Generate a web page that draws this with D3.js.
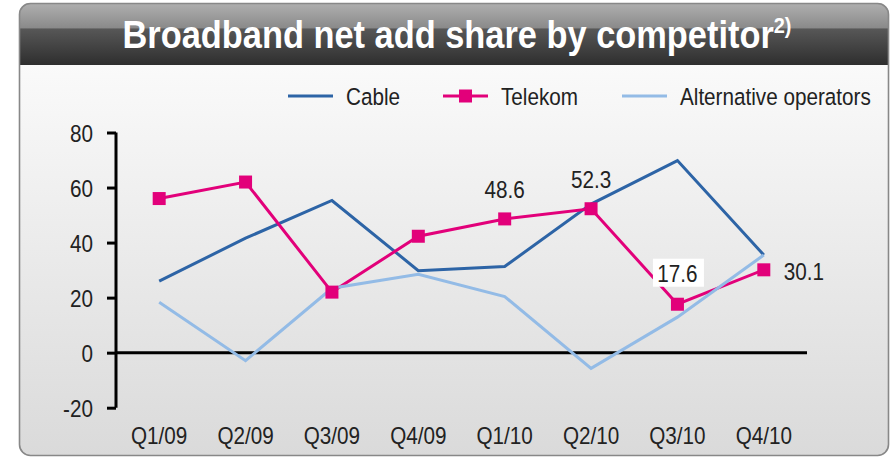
<!DOCTYPE html>
<html>
<head>
<meta charset="utf-8">
<script src="https://cdn.jsdelivr.net/npm/d3@7"></script>
<style>
  body { margin: 0; background: #fff; }
  svg text { font-family: "Liberation Sans", Arial, sans-serif; }
</style>
</head>
<body>
<div id="chart"></div>
<script>
var quarters = ["Q1/09", "Q2/09", "Q3/09", "Q4/09", "Q1/10", "Q2/10", "Q3/10", "Q4/10"];
var cable = [26, 41.6, 55.3, 29.8, 31.3, 54, 69.8, 35.5];
var telekom = [56, 62, 22, 42.3, 48.6, 52.3, 17.6, 30.1];
var alternative = [18.3, -2.9, 23.4, 28.5, 20.4, -5.7, 12.9, 35.5];
var yTicks = [-20, 0, 20, 40, 60, 80];
var labelled = ["Q1/10", "Q2/10", "Q3/10", "Q4/10"];

var width = 895, height = 458;
var squeeze = 0.88;

var svg = d3.select("#chart").append("svg")
            .attr("width", width)
            .attr("height", height);

var defs = svg.append("defs");

var bg = defs.append("linearGradient").attr("id", "bg")
             .attr("x1", 0).attr("y1", 0).attr("x2", 0).attr("y2", 1);
bg.append("stop").attr("offset", "0%").attr("stop-color", "#ffffff");
bg.append("stop").attr("offset", "100%").attr("stop-color", "#dadada");

var head = defs.append("linearGradient").attr("id", "head")
               .attr("x1", 0).attr("y1", 0).attr("x2", 0).attr("y2", 1);
head.append("stop").attr("offset", "0%").attr("stop-color", "#b0b0b0");
head.append("stop").attr("offset", "40%").attr("stop-color", "#8a8a8a");
head.append("stop").attr("offset", "42%").attr("stop-color", "#575757");
head.append("stop").attr("offset", "100%").attr("stop-color", "#2e2e2e");

defs.append("clipPath").attr("id", "frameClip")
    .append("rect").attr("x", 19).attr("y", 3).attr("width", 870).attr("height", 453).attr("rx", 11);

// squeezed text, the original uses a condensed face
function label(g, x, y, str, size, anchor, sq) {
  return g.append("text")
          .attr("transform", "translate(" + x + "," + y + ") scale(" + (sq || squeeze) + ",1)")
          .attr("text-anchor", anchor || "middle")
          .style("font-size", size + "px")
          .style("fill", "#222")
          .text(str);
}

// frame
var frame = svg.append("g").attr("clip-path", "url(#frameClip)");
frame.append("rect").attr("x", 19).attr("y", 3).attr("width", 870).attr("height", 453)
     .attr("fill", "url(#bg)");
frame.append("rect").attr("x", 19).attr("y", 3).attr("width", 870).attr("height", 62)
     .attr("fill", "url(#head)");
svg.append("rect").attr("x", 19.5).attr("y", 3.5).attr("width", 869).attr("height", 452).attr("rx", 11)
   .attr("fill", "none").attr("stroke", "#888").attr("stroke-width", 1.6);

var title = label(svg, 457, 48, null, 38, "middle", 0.905)
   .style("font-weight", "bold").style("fill", "#fff");
title.append("tspan").text("Broadband net add share by competitor");
title.append("tspan").attr("dy", -15).style("font-size", "22px").text("2)");

// scales
var x = d3.scalePoint().domain(quarters).range([116, 807]).padding(0.5);
var y = d3.scaleLinear().domain([-20, 80]).range([407.7, 132.5]);

// y axis
var yAxis = svg.append("g").attr("transform", "translate(116,0)")
   .call(d3.axisLeft(y).tickValues(yTicks).tickSize(9).tickFormat(function(d){ return String(d); }));
yAxis.select(".domain").attr("stroke", "#000").attr("stroke-width", 3).attr("d", "M0," + y(80) + "V" + y(-20));
yAxis.selectAll(".tick line").attr("stroke", "#000").attr("stroke-width", 3);
yAxis.selectAll(".tick text")
     .attr("x", null).attr("dy", "0.38em")
     .attr("transform", "translate(-23,0) scale(" + squeeze + ",1)")
     .style("font-size", "23.5px").style("fill", "#222")
     .style("font-family", "Liberation Sans, Arial, sans-serif");

// zero line
svg.append("line").attr("x1", 116).attr("x2", 807).attr("y1", y(0)).attr("y2", y(0))
   .attr("stroke", "#000").attr("stroke-width", 3);

// x labels
var xl = svg.append("g");
quarters.forEach(function(q){
  label(xl, x(q), 444, q, 23.5);
});

var line = d3.line()
   .x(function(d, i){ return x(quarters[i]); })
   .y(function(d){ return y(d); });

svg.append("path").datum(cable).attr("d", line)
   .attr("fill", "none").attr("stroke", "#2d64a6").attr("stroke-width", 3);
svg.append("path").datum(telekom).attr("d", line)
   .attr("fill", "none").attr("stroke", "#e2007a").attr("stroke-width", 3);
svg.append("path").datum(alternative).attr("d", line)
   .attr("fill", "none").attr("stroke", "#93bbe6").attr("stroke-width", 3);

svg.append("g").selectAll("rect").data(telekom).enter().append("rect")
   .attr("x", function(d, i){ return x(quarters[i]) - 6.5; })
   .attr("y", function(d){ return y(d) - 6.5; })
   .attr("width", 13).attr("height", 13)
   .attr("fill", "#e2007a");

// value labels
var labels = svg.append("g");
labelled.forEach(function(q){
  var i = quarters.indexOf(q);
  var v = telekom[i];
  var tx = x(q), ty = y(v) - 21;
  if (q == "Q3/10") {
    ty = y(v) - 22.5;
    labels.append("rect").attr("x", tx - 24.5).attr("y", ty - 23).attr("width", 51).attr("height", 28)
          .attr("fill", "#fff");
  }
  if (q == "Q4/10") { tx = x(q) + 40; ty = y(v) + 10; }
  label(labels, tx, ty, v.toFixed(1), 23.5);
});

// legend
var legend = svg.append("g");
var items = [
  {name: "Cable", color: "#2d64a6", x: 288, marker: false},
  {name: "Telekom", color: "#e2007a", x: 443, marker: true},
  {name: "Alternative operators", color: "#93bbe6", x: 622, marker: false}
];
items.forEach(function(it){
  legend.append("line").attr("x1", it.x).attr("x2", it.x + 45).attr("y1", 96).attr("y2", 96)
        .attr("stroke", it.color).attr("stroke-width", 3);
  if (it.marker) {
    legend.append("rect").attr("x", it.x + 16).attr("y", 89.5).attr("width", 13).attr("height", 13)
          .attr("fill", it.color);
  }
  label(legend, it.x + 58, 105, it.name, 23.5, "start");
});
</script>
</body>
</html>
